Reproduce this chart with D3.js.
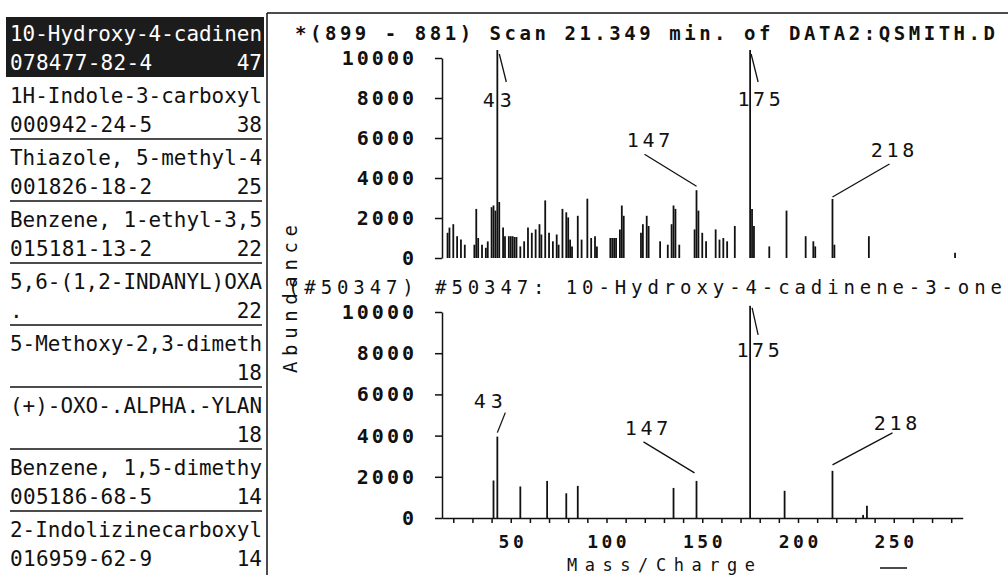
<!DOCTYPE html>
<html>
<head>
<meta charset="utf-8">
<script src="https://cdn.jsdelivr.net/npm/d3@7"></script>
<style>
  body { margin: 0; background: #fff; }
  svg { display: block; }
  text { font-family: "DejaVu Sans Mono", monospace; fill: #111; }
</style>
</head>
<body>
<svg id="chart" width="1008" height="575"></svg>
<script>
// library search hits (left list)
const hitNames = [
  "10-Hydroxy-4-cadinen", "1H-Indole-3-carboxyl", "Thiazole, 5-methyl-4",
  "Benzene, 1-ethyl-3,5", "5,6-(1,2-INDANYL)OXA", "5-Methoxy-2,3-dimeth",
  "(+)-OXO-.ALPHA.-YLAN", "Benzene, 1,5-dimethy", "2-Indolizinecarboxyl"
];
const hitCas = ["078477-82-4", "000942-24-5", "001826-18-2", "015181-13-2", ".", "", "", "005186-68-5", "016959-62-9"];
const hitQual = [47, 38, 25, 22, 22, 18, 18, 14, 14];

// scan spectrum (top)
const scanMz = [17, 18, 20, 22, 24, 26, 31, 32, 33, 35, 37, 38, 40, 41, 42, 43, 44, 46, 47,
  49, 50, 51, 52, 53, 55, 57, 59, 61, 63, 65, 66, 68, 70, 72, 74, 75, 77, 79, 80, 81, 82,
  85, 87, 90, 92, 94, 95, 102, 103, 104, 105, 107, 108, 109, 118, 119, 121, 122,
  128, 132, 134, 135, 136, 138, 146, 147, 148, 150, 152, 157, 159, 161, 163, 167,
  175, 176, 177, 185, 194, 204, 208, 209, 218, 219, 237, 282];
const scanAbund = [1260, 1520, 1690, 1090, 920, 665, 665, 2455, 1000, 665, 510, 830, 2540, 2625, 2370, 10400, 2800, 1520, 1090,
  1090, 1090, 1090, 1050, 1050, 580, 835, 1520, 1260, 1430, 1690, 1175, 2880, 1260, 835, 1175, 665, 2455, 2285, 2030, 920, 580,
  2110, 920, 2965, 1000, 1090, 580, 1000, 1000, 1000, 1000, 1430, 2625, 2110, 1260, 1690, 2110, 1600,
  835, 665, 1690, 2625, 2455, 665, 1430, 3390, 2370, 1260, 835, 1430, 920, 1000, 835, 1600,
  10400, 2455, 1600, 580, 2370, 1090, 835, 580, 2950, 665, 1090, 260];

// library spectrum (bottom)
const libMz = [41, 43, 55, 69, 79, 85, 135, 147, 175, 193, 218, 234, 236];
const libAbund = [1820, 3950, 1530, 1800, 1200, 1560, 1460, 1800, 10300, 1320, 2290, 150, 600];

const labelledMz = [43, 147, 175, 218];
const yTicks = [0, 2000, 4000, 6000, 8000, 10000];
const xLabelTicks = [50, 100, 150, 200, 250];
const scanTitle = "*(899 - 881) Scan 21.349 min. of DATA2:QSMITH.D";
const libTitle = "(#50347)  #50347:  10-Hydroxy-4-cadinene-3-one";

const svg = d3.select("#chart");
const ink = "#111";

// ---------- left list ----------
const rowY = i => 33 + 62 * i;
const list = svg.append("g");
list.append("rect")
  .attr("x", 6).attr("y", 17).attr("width", 258).attr("height", 60)
  .attr("fill", "#1c1c1c");

const hits = hitNames.map((n, i) => ({ name: n, cas: hitCas[i], q: hitQual[i], i }));

list.selectAll("line.sep")
  .data(hits.slice(2))
  .join("line")
  .attr("x1", 10).attr("x2", 262)
  .attr("y1", d => rowY(d.i) - 18).attr("y2", d => rowY(d.i) - 18)
  .attr("stroke", ink).attr("stroke-width", 1.5);

const rows = list.selectAll("g.hit").data(hits).join("g");
rows.append("text")
  .attr("x", 10).attr("y", d => rowY(d.i)).attr("dy", "0.36em")
  .attr("font-size", 21).attr("textLength", 252).attr("lengthAdjust", "spacingAndGlyphs")
  .style("fill", d => d.i === 0 ? "#fff" : ink)
  .text(d => d.name);
rows.append("text")
  .attr("x", 10).attr("y", d => rowY(d.i) + 29).attr("dy", "0.36em")
  .attr("font-size", 21).attr("letter-spacing", 0.3)
  .style("fill", d => d.i === 0 ? "#fff" : ink)
  .text(d => d.cas);
rows.append("text")
  .attr("x", 262).attr("y", d => rowY(d.i) + 29).attr("dy", "0.36em")
  .attr("font-size", 21).attr("text-anchor", "end")
  .style("fill", d => d.i === 0 ? "#fff" : ink)
  .text(d => d.q);

// frame
svg.append("line").attr("x1", 267).attr("x2", 267).attr("y1", 13).attr("y2", 575)
  .attr("stroke", ink).attr("stroke-width", 1.5);
svg.append("line").attr("x1", 267).attr("x2", 1008).attr("y1", 13).attr("y2", 13)
  .attr("stroke", ink).attr("stroke-width", 1.5);

// ---------- spectra ----------
const x = d3.scaleLinear().domain([14, 286]).range([441.8, 962.7]);
const yTop = d3.scaleLinear().domain([0, 10000]).range([258, 58]);
const yBot = d3.scaleLinear().domain([0, 10000]).range([518, 312]);
const axisX = 442;

function yAxis(y) {
  const g = svg.append("g").attr("transform", `translate(${axisX},0)`);
  g.call(d3.axisLeft(y).tickValues(d3.range(0, 10001, 500)).tickSize(3).tickSizeOuter(0).tickFormat(""));
  g.call(d3.axisLeft(y).tickValues(yTicks).tickSize(7).tickSizeOuter(0).tickPadding(18).tickFormat(d3.format("d")))
    .call(s => s.selectAll("path, line").attr("stroke", ink).attr("stroke-width", 1.5))
    .call(s => s.selectAll("text").attr("font-size", 20).attr("font-weight", "bold")
      .attr("letter-spacing", 3).style("font-family", "DejaVu Sans Mono").style("fill", ink));
  return g;
}

function bars(y, mz, ab) {
  svg.append("g").selectAll("line")
    .data(mz.map((m, i) => ({ m, v: ab[i] })))
    .join("line")
    .attr("x1", d => x(d.m)).attr("x2", d => x(d.m))
    .attr("y1", y(0)).attr("y2", d => y(d.v))
    .attr("stroke", ink).attr("stroke-width", 1.8);
}

// label placement relative to the peak top: text offset, leader start / end
const scanLabelPos = {
  43: { t: [0, 50], a: [2, 4], b: [9, 32] },
  147: { t: [-48, -50], a: [0, -4], b: [-52, -36] },
  175: { t: [9, 49], a: [1, 4], b: [8, 32] },
  218: { t: [60, -49], a: [0, -2], b: [57, -35] }
};
const libLabelPos = {
  43: { t: [-9, -36], a: [0, -4], b: [8, -24] },
  147: { t: [-50, -53], a: [-2, -8], b: [-53, -39] },
  175: { t: [8, 44], a: [2, 2], b: [8, 29] },
  218: { t: [63, -48], a: [0, -6], b: [60, -38] }
};

function peakLabels(y, mz, ab, pos) {
  const g = svg.append("g");
  labelledMz.forEach(m => {
    const i = mz.indexOf(m);
    const px = x(m), py = y(ab[i]);
    const p = pos[m];
    g.append("line")
      .attr("x1", px + p.a[0]).attr("y1", py + p.a[1])
      .attr("x2", px + p.b[0]).attr("y2", py + p.b[1])
      .attr("stroke", ink).attr("stroke-width", 1.3);
    g.append("text")
      .attr("x", px + p.t[0]).attr("y", py + p.t[1]).attr("dy", "0.36em")
      .attr("text-anchor", "middle").attr("font-size", 20)
      .attr("textLength", String(m).length * 14.5).attr("lengthAdjust", "spacing")
      .text(m);
  });
}

// top: scan
svg.append("text").attr("x", 295).attr("y", 33).attr("dy", "0.36em")
  .attr("font-size", 19).attr("font-weight", 600).attr("textLength", 700).attr("lengthAdjust", "spacing")
  .text(scanTitle);
yAxis(yTop);
bars(yTop, scanMz, scanAbund);
peakLabels(yTop, scanMz, scanAbund, scanLabelPos);

// bottom: library
svg.append("text").attr("x", 288).attr("y", 287).attr("dy", "0.36em")
  .attr("font-size", 19).attr("textLength", 714).attr("lengthAdjust", "spacing")
  .text(libTitle);
yAxis(yBot);
bars(yBot, libMz, libAbund);
peakLabels(yBot, libMz, libAbund, libLabelPos);

const xg = svg.append("g").attr("transform", `translate(0,${yBot(0)})`)
  .call(d3.axisBottom(x).tickValues(d3.range(20, 290, 10)).tickSize(5).tickSizeOuter(0).tickPadding(12)
    .tickFormat(d => xLabelTicks.includes(d) ? d : ""));
xg.selectAll("path, line").attr("stroke", ink).attr("stroke-width", 1.5);
xg.selectAll("text").attr("font-size", 18).attr("font-weight", "bold").attr("letter-spacing", 3.5)
  .attr("dx", 1.7).style("font-family", "DejaVu Sans Mono").style("fill", ink);

// axis titles
svg.append("text").attr("transform", "translate(290,299) rotate(-90)")
  .attr("text-anchor", "middle").attr("dy", "0.36em").attr("font-size", 19)
  .attr("textLength", 148).attr("lengthAdjust", "spacing")
  .text("Abundance");
svg.append("text").attr("x", 661).attr("y", 565).attr("dy", "0.34em")
  .attr("text-anchor", "middle").attr("font-size", 17)
  .attr("textLength", 188).attr("lengthAdjust", "spacing")
  .text("Mass/Charge");

svg.append("line").attr("x1", 880).attr("x2", 907).attr("y1", 568).attr("y2", 568)
  .attr("stroke", ink).attr("stroke-width", 1.5);
</script>
</body>
</html>
